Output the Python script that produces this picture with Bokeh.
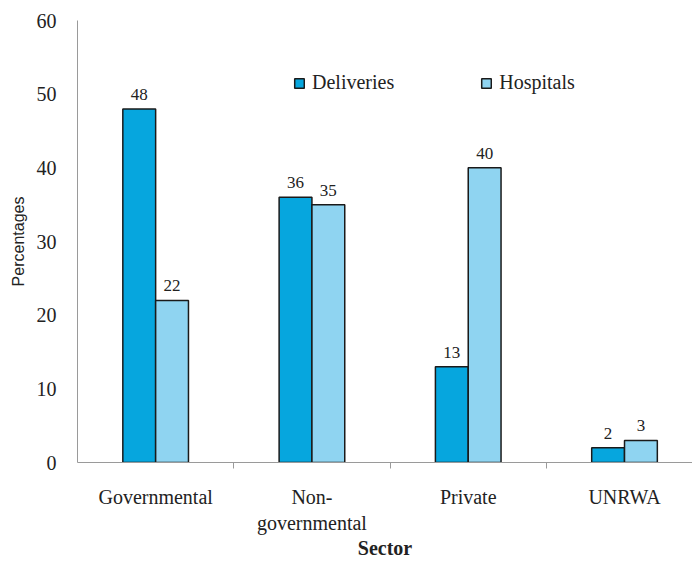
from bokeh.plotting import figure
from bokeh.models import ColumnDataSource, FixedTicker, Legend, LegendItem
from bokeh.core.properties import value
from bokeh.embed import file_html
from bokeh.resources import INLINE

categories = ["Governmental", "Non-\ngovernmental", "Private", "UNRWA"]
deliveries = [48, 36, 13, 2]
hospitals = [22, 35, 40, 3]
y_ticks = [0, 10, 20, 30, 40, 50, 60]

centers = [i + 0.5 for i in range(len(categories))]
bw = 0.21
d_x = [c - bw / 2 for c in centers]
h_x = [c + bw / 2 for c in centers]

src_d = ColumnDataSource(dict(x=d_x, top=deliveries, lab=[str(v) for v in deliveries]))
src_h = ColumnDataSource(dict(x=h_x, top=hospitals, lab=[str(v) for v in hospitals]))

p = figure(width=692, height=562, output_backend="svg", toolbar_location=None,
           x_range=(0, 3.935), y_range=(0, 60))
p.min_border_left = 77
p.min_border_right = 0
p.min_border_top = 20
p.min_border_bottom = 100
p.outline_line_color = None
p.background_fill_color = "white"
p.border_fill_color = "white"
p.xgrid.visible = False
p.ygrid.visible = False

SERIF = "Liberation Serif"
d_col = "#06A6DE"
h_col = "#8FD4F1"

r1 = p.vbar(x="x", top="top", width=bw, source=src_d, fill_color=d_col,
            line_color="#1a1a1a", line_width=1.5)
r2 = p.vbar(x="x", top="top", width=bw, source=src_h, fill_color=h_col,
            line_color="#1a1a1a", line_width=1.5)

for src in (src_d, src_h):
    p.text(x="x", y="top", text="lab", source=src, text_align="center",
           text_baseline="bottom", y_offset=-9, text_font=value(SERIF),
           text_font_size="17px", text_color="#222222")

# y axis
p.yaxis.ticker = FixedTicker(ticks=y_ticks)
p.yaxis.major_tick_line_color = None
p.yaxis.minor_tick_line_color = None
p.yaxis.axis_line_color = "#9a9a9a"
p.yaxis.major_label_text_font = SERIF
p.yaxis.major_label_text_font_size = "20px"
p.yaxis.major_label_text_color = "#222222"
p.yaxis.major_label_standoff = 15
p.yaxis.axis_label = "Percentages"
p.yaxis.axis_label_text_font = "Liberation Sans"
p.yaxis.axis_label_text_font_style = "normal"
p.yaxis.axis_label_text_font_size = "16px"
p.yaxis.axis_label_text_color = "#222222"
p.yaxis.axis_label_standoff = 7

# x axis
p.xaxis.ticker = FixedTicker(ticks=centers, minor_ticks=[1, 2, 3])
p.xaxis.major_label_overrides = {c: lab for c, lab in zip(centers, categories)}
p.xaxis.major_tick_line_color = None
p.xaxis.minor_tick_line_color = "#9a9a9a"
p.xaxis.minor_tick_out = 6
p.xaxis.minor_tick_in = 0
p.xaxis.axis_line_color = "#9a9a9a"
p.xaxis.major_label_text_font = SERIF
p.xaxis.major_label_text_font_size = "20px"
p.xaxis.major_label_text_color = "#222222"
p.xaxis.major_label_standoff = 17
p.xaxis.axis_label = "Sector"
p.xaxis.axis_label_text_font = SERIF
p.xaxis.axis_label_text_font_style = "bold"
p.xaxis.axis_label_text_font_size = "20px"
p.xaxis.axis_label_text_color = "#222222"
p.xaxis.axis_label_standoff = 0

legend = Legend(items=[LegendItem(label="Deliveries", renderers=[r1]),
                       LegendItem(label="Hospitals", renderers=[r2])],
                orientation="horizontal", location=(216, 368))
legend.border_line_color = None
legend.background_fill_alpha = 0
legend.padding = 0
legend.margin = 0
legend.spacing = 86
legend.glyph_width = 12
legend.glyph_height = 12
legend.label_standoff = 7
legend.label_text_font = SERIF
legend.label_text_font_size = "20px"
legend.label_text_color = "#222222"
p.add_layout(legend, "center")

open("out.html", "w").write(file_html(p, INLINE))
